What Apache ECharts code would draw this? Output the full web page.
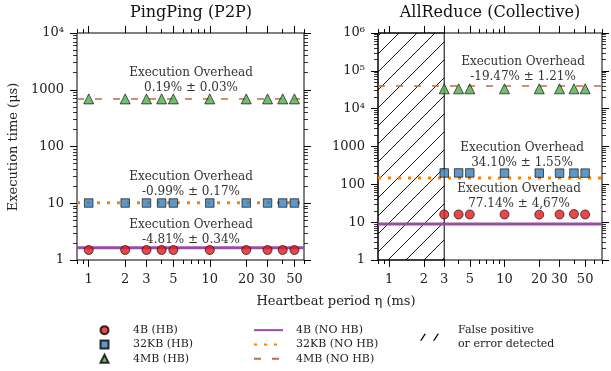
<!DOCTYPE html>
<html><head><meta charset="utf-8">
<script src="https://cdn.jsdelivr.net/npm/echarts@6/dist/echarts.min.js"></script>
<style>html,body{margin:0;padding:0;background:#fff}#c{width:611px;height:371px}</style>
</head><body><div id="c"></div><script>
const FONT = 'DejaVu Serif';

// axis ranges and ticks
const ppXRange = [0.8, 60];
const arXRange = [0.8, 70];
const ppYRange = [1, 1e4];
const arYRange = [1, 1e6];
const xTickLabels = [1, 2, 3, 5, 10, 20, 30, 50];
const xMinorTicks = [0.8, 0.9, 4, 6, 7, 8, 9, 40, 60, 70];
const hatchRange = [0.8, 3];

// PingPing (P2P)
const ppX = [1, 2, 3, 4, 5, 10, 20, 30, 40, 50];
const pp4B_HB = [1.5, 1.5, 1.5, 1.5, 1.5, 1.5, 1.5, 1.5, 1.5, 1.5];
const pp32KB_HB = [10.1, 10.1, 10.1, 10.1, 10.1, 10.1, 10.1, 10.1, 10.1, 10.1];
const pp4MB_HB = [690, 690, 690, 690, 690, 690, 690, 690, 690, 690];
const pp4B_NOHB = 1.65;
const pp32KB_NOHB = 10.2;
const pp4MB_NOHB = 690;

// AllReduce (Collective)
const arX = [3, 4, 5, 10, 20, 30, 40, 50];
const ar4B_HB = [16, 16, 16, 16, 15.8, 16, 16.4, 16];
const ar32KB_HB = [200, 200, 200, 198, 198, 198, 198, 198];
const ar4MB_HB = [33500, 33500, 33500, 33500, 33500, 33500, 33500, 33500];
const ar4B_NOHB = 9;
const ar32KB_NOHB = 148;
const ar4MB_NOHB = 40000;

const notes = [
  {text: 'Execution Overhead\n0.19% ± 0.03%', x: 191, y: 80},
  {text: 'Execution Overhead\n-0.99% ± 0.17%', x: 191, y: 184},
  {text: 'Execution Overhead\n-4.81% ± 0.34%', x: 191, y: 232},
  {text: 'Execution Overhead\n-19.47% ± 1.21%', x: 523, y: 69},
  {text: 'Execution Overhead\n34.10% ± 1.55%', x: 522, y: 155},
  {text: 'Execution Overhead\n77.14% ± 4,67%', x: 519, y: 196}
];

const C = {
  red: '#e41a1c', blue: '#377eb8', green: '#4daf4a',
  purple: '#984ea3', orange: '#ff7f00', brown: '#c46a3f'
};

function hatchCanvas() {
  const s = 18;
  const c = document.createElement('canvas');
  c.width = s; c.height = s;
  const ctx = c.getContext('2d');
  ctx.strokeStyle = '#000';
  ctx.lineWidth = 0.9;
  ctx.beginPath();
  ctx.moveTo(-1, s + 1); ctx.lineTo(s + 1, -1);
  ctx.moveTo(-1, 1); ctx.lineTo(1, -1);
  ctx.moveTo(s - 1, s + 1); ctx.lineTo(s + 1, s - 1);
  ctx.stroke();
  return c;
}

const lg = Math.log10;
function xData(g, r) {
  return {type: 'log', logBase: 10, gridIndex: g, min: r[0], max: r[1], show: false};
}
function xOverlay(g, r, pos, values, len, labels) {
  const vals = values.filter(v => v >= r[0] && v <= r[1]).map(lg);
  return {
    type: 'value', gridIndex: g, position: pos, min: lg(r[0]), max: lg(r[1]),
    axisLine: {show: false, onZero: false}, splitLine: {show: false},
    axisTick: {show: true, customValues: vals, length: len, lineStyle: {color: '#000', width: 1}},
    axisLabel: labels ? {
      show: true, customValues: vals, margin: 13, color: '#222', fontFamily: FONT, fontSize: 13,
      formatter: v => String(Math.round(Math.pow(10, v)))
    } : {show: false}
  };
}
const sup = {4: '⁴', 5: '⁵', 6: '⁶'};
function yAx(g, r, pos, labels) {
  return {
    type: 'log', logBase: 10, gridIndex: g, position: pos, min: r[0], max: r[1],
    splitNumber: Math.round(lg(r[1]) - lg(r[0])),
    axisLine: {show: false, onZero: false}, splitLine: {show: false},
    axisTick: {show: true, length: 7, lineStyle: {color: '#000', width: 1}},
    minorTick: {show: true, splitNumber: 9, length: 4, lineStyle: {color: '#000', width: 0.8}},
    axisLabel: labels ? {
      show: true, margin: 13, color: '#222', fontFamily: FONT, fontSize: 13,
      formatter: v => v >= 1e4 ? '10' + sup[Math.round(lg(v))] : String(v)
    } : {show: false}
  };
}

function zip(xs, ys) { return xs.map((x, i) => [x, ys[i]]); }
function hbSeries(name, xs, ys, xi, yi, symbol, size, color) {
  return {name, type: 'scatter', xAxisIndex: xi, yAxisIndex: yi, data: zip(xs, ys),
    symbol, symbolSize: size, z: 5,
    itemStyle: {color, borderColor: '#000', borderWidth: 0.8}};
}
function noHbSeries(name, r, v, xi, yi, color, width, type) {
  return {name, type: 'line', xAxisIndex: xi, yAxisIndex: yi, data: [[r[0], v], [r[1], v]],
    symbol: 'none', z: 3, silent: true,
    itemStyle: {color},
    lineStyle: {color, width, type, cap: 'butt'}};
}

const DOT = [3, 7], DASH = [7, 11];
const HATCH = 'False positive\nor error detected';

const series = [
  hbSeries('4B (HB)', ppX, pp4B_HB, 0, 0, 'circle', 9, C.red),
  hbSeries('32KB (HB)', ppX, pp32KB_HB, 0, 0, 'rect', 8.5, C.blue),
  hbSeries('4MB (HB)', ppX, pp4MB_HB, 0, 0, 'triangle', 10, C.green),
  noHbSeries('4B (NO HB)', ppXRange, pp4B_NOHB, 0, 0, C.purple, 3, 'solid'),
  noHbSeries('32KB (NO HB)', ppXRange, pp32KB_NOHB, 0, 0, C.orange, 3, DOT),
  noHbSeries('4MB (NO HB)', ppXRange, pp4MB_NOHB, 0, 0, C.brown, 1.5, DASH),

  {name: HATCH, type: 'line', xAxisIndex: 5, yAxisIndex: 2, data: [], z: 1,
    itemStyle: {color: '#000'}, lineStyle: {color: '#000'},
    markArea: {silent: true,
      itemStyle: {color: {image: hatchCanvas(), repeat: 'repeat'}, borderColor: '#000', borderWidth: 1},
      data: [[{xAxis: hatchRange[0]}, {xAxis: hatchRange[1]}]]}},

  hbSeries('4B (HB)', arX, ar4B_HB, 5, 2, 'circle', 9, C.red),
  hbSeries('32KB (HB)', arX, ar32KB_HB, 5, 2, 'rect', 8.5, C.blue),
  hbSeries('4MB (HB)', arX, ar4MB_HB, 5, 2, 'triangle', 10, C.green),
  noHbSeries('4B (NO HB)', arXRange, ar4B_NOHB, 5, 2, C.purple, 3, 'solid'),
  noHbSeries('32KB (NO HB)', arXRange, ar32KB_NOHB, 5, 2, C.orange, 3, DOT),
  noHbSeries('4MB (NO HB)', arXRange, ar4MB_NOHB, 5, 2, C.brown, 1.5, DASH)
];

const legText = {fontFamily: FONT, fontSize: 11, color: '#222', lineHeight: 14.3};

const option = {
  animation: false,
  backgroundColor: '#fff',
  title: [
    {text: 'PingPing (P2P)', left: 191, top: 5, textAlign: 'center', padding: 0,
      textStyle: {fontFamily: FONT, fontSize: 16, fontWeight: 'normal', color: '#111'}},
    {text: 'AllReduce (Collective)', left: 490, top: 5, textAlign: 'center', padding: 0,
      textStyle: {fontFamily: FONT, fontSize: 16, fontWeight: 'normal', color: '#111'}}
  ],
  grid: [
    {left: 77, right: 307, top: 33, bottom: 111, show: true, borderColor: '#000', borderWidth: 1, backgroundColor: 'transparent'},
    {left: 378, right: 9, top: 33, bottom: 111, show: true, borderColor: '#000', borderWidth: 1, backgroundColor: 'transparent'}
  ],
  xAxis: [
    xData(0, ppXRange),
    xOverlay(0, ppXRange, 'bottom', xTickLabels, 7, true),
    xOverlay(0, ppXRange, 'bottom', xMinorTicks, 4, false),
    xOverlay(0, ppXRange, 'top', xTickLabels, 7, false),
    xOverlay(0, ppXRange, 'top', xMinorTicks, 4, false),
    xData(1, arXRange),
    xOverlay(1, arXRange, 'bottom', xTickLabels, 7, true),
    xOverlay(1, arXRange, 'bottom', xMinorTicks, 4, false),
    xOverlay(1, arXRange, 'top', xTickLabels, 7, false),
    xOverlay(1, arXRange, 'top', xMinorTicks, 4, false)
  ],
  yAxis: [
    yAx(0, ppYRange, 'left', true),
    yAx(0, ppYRange, 'right', false),
    yAx(1, arYRange, 'left', true),
    yAx(1, arYRange, 'right', false)
  ],
  legend: [
    {data: [{name: '4B (HB)', icon: 'circle'}, {name: '32KB (HB)', icon: 'rect'}, {name: '4MB (HB)', icon: 'triangle'}],
      orient: 'vertical', left: 99.5, top: 323, padding: 0,
      itemWidth: 8, itemHeight: 8, itemGap: 0, selectedMode: false,
      textStyle: Object.assign({padding: [0, 0, 0, 19.5]}, legText)},
    {data: ['4B (NO HB)', '32KB (NO HB)', '4MB (NO HB)'], orient: 'vertical', left: 253, top: 323, padding: 0,
      itemWidth: 29, itemHeight: 9, itemGap: 0, selectedMode: false,
      itemStyle: {opacity: 0},
      textStyle: Object.assign({padding: [0, 0, 0, 8]}, legText)},
    {data: [{name: HATCH, icon: 'path://M0,7 L4.5,0 L6,0 L1.5,7 Z M13,7 L17.5,0 L19,0 L14.5,7 Z'}],
      orient: 'vertical', left: 420, top: 323, padding: 0,
      itemWidth: 19, itemHeight: 7, itemGap: 0, selectedMode: false,
      textStyle: Object.assign({padding: [0, 0, 0, 14]}, legText)}
  ],
  graphic: notes.map(n => ({
    type: 'text', x: n.x, y: n.y, z: 10,
    style: {text: n.text, fill: '#333', fontFamily: FONT, fontSize: 12, lineHeight: 15,
      align: 'center', verticalAlign: 'middle'}
  })).concat([
    {type: 'text', x: 14, y: 147, rotation: Math.PI / 2,
      style: {text: 'Execution time (μs)', fill: '#222', fontFamily: FONT, fontSize: 13,
        align: 'center', verticalAlign: 'middle'}},
    {type: 'text', x: 336, y: 302,
      style: {text: 'Heartbeat period η (ms)', fill: '#222', fontFamily: FONT, fontSize: 13,
        align: 'center', verticalAlign: 'middle'}}
  ]),
  series
};

const chart = echarts.init(document.getElementById('c'), null, {renderer: 'canvas'});
chart.setOption(option);
</script></body></html>
